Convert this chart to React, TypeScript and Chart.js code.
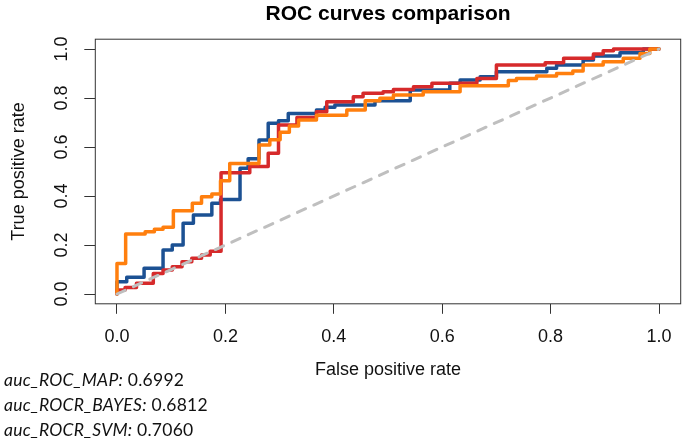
import React, { useEffect, useRef } from 'react';
import { Chart, registerables } from 'chart.js';

Chart.register(...registerables);

const chartTitle = 'ROC curves comparison';
const xAxisTitle = 'False positive rate';
const yAxisTitle = 'True positive rate';
const tickValues = [0, 0.2, 0.4, 0.6, 0.8, 1.0];

// MAP (blue)
const mapFpr = [0, 0, 0.018, 0.05, 0.085, 0.102, 0.122, 0.141, 0.175, 0.191, 0.227, 0.242, 0.262, 0.279, 0.298, 0.316, 0.368, 0.384, 0.402, 0.476, 0.541, 0.614, 0.633, 0.67, 0.70, 0.793, 0.811, 0.86, 0.879, 0.928, 0.971, 1.0];
const mapTpr = [0, 0.05, 0.068, 0.105, 0.18, 0.2, 0.289, 0.322, 0.37, 0.386, 0.513, 0.552, 0.629, 0.697, 0.707, 0.737, 0.751, 0.762, 0.771, 0.789, 0.833, 0.86, 0.873, 0.887, 0.907, 0.921, 0.935, 0.955, 0.971, 0.985, 1.0, 1.0];

// BAYES (red)
const bayesFpr = [0, 0, 0.015, 0.036, 0.067, 0.085, 0.102, 0.12, 0.138, 0.156, 0.172, 0.192, 0.245, 0.279, 0.298, 0.332, 0.368, 0.387, 0.436, 0.454, 0.491, 0.51, 0.547, 0.581, 0.664, 0.70, 0.79, 0.824, 0.879, 0.897, 0.916, 1.0];
const bayesTpr = [0, 0.016, 0.027, 0.044, 0.084, 0.098, 0.111, 0.132, 0.146, 0.159, 0.175, 0.495, 0.52, 0.574, 0.69, 0.72, 0.744, 0.785, 0.805, 0.819, 0.826, 0.835, 0.846, 0.86, 0.88, 0.935, 0.944, 0.962, 0.98, 0.993, 1.0, 1.0];

// SVM (orange)
const svmFpr = [0, 0, 0.016, 0.052, 0.069, 0.085, 0.104, 0.139, 0.156, 0.175, 0.191, 0.208, 0.262, 0.282, 0.301, 0.318, 0.335, 0.368, 0.424, 0.458, 0.485, 0.51, 0.565, 0.633, 0.722, 0.737, 0.774, 0.811, 0.841, 0.86, 0.897, 0.934, 0.965, 0.983, 1.0];
const svmTpr = [0, 0.125, 0.245, 0.254, 0.264, 0.272, 0.34, 0.37, 0.397, 0.408, 0.462, 0.533, 0.608, 0.63, 0.66, 0.686, 0.71, 0.73, 0.751, 0.789, 0.799, 0.812, 0.826, 0.85, 0.871, 0.88, 0.89, 0.9, 0.91, 0.935, 0.948, 0.962, 0.982, 1.0, 1.0];

// chance diagonal
const chanceFpr = [0, 1];
const chanceTpr = [0, 1];

const aucNames = ['auc_ROC_MAP:', 'auc_ROCR_BAYES:', 'auc_ROCR_SVM:'];
const aucValues = ['0.6992', '0.6812', '0.7060'];

const FONT = "'Liberation Sans', Arial, Helvetica, sans-serif";

const toXY = (xs: number[], ys: number[]) => xs.map((x, i) => ({ x, y: ys[i] }));

const boxPlugin = {
  id: 'rbox',
  afterDraw(chart: any) {
    const { ctx, chartArea } = chart;
    ctx.save();
    ctx.strokeStyle = '#333';
    ctx.lineWidth = 1;
    ctx.strokeRect(chartArea.left, chartArea.top, chartArea.right - chartArea.left, chartArea.bottom - chartArea.top);
    ctx.restore();
  },
};

export default function App() {
  const ref = useRef<HTMLCanvasElement | null>(null);

  useEffect(() => {
    if (!ref.current) return;
    const setTicks = (scale: any) => {
      scale.ticks = tickValues.map((v) => ({ value: v }));
    };
    const chart = new Chart(ref.current, {
      type: 'scatter',
      data: {
        datasets: [
          {
            label: 'chance',
            data: toXY(chanceFpr, chanceTpr),
            showLine: true,
            borderColor: '#bfbfbf',
            borderWidth: 3,
            borderDash: [9, 9],
            borderCapStyle: 'round',
            pointRadius: 0,
            order: 0,
          },
          {
            label: 'SVM',
            data: toXY(svmFpr, svmTpr),
            showLine: true,
            stepped: 'before',
            borderColor: '#ff7f0e',
            borderWidth: 3.5,
            borderJoinStyle: 'round',
            borderCapStyle: 'round',
            pointRadius: 0,
            order: 1,
          },
          {
            label: 'BAYES',
            data: toXY(bayesFpr, bayesTpr),
            showLine: true,
            stepped: 'before',
            borderColor: '#d62a2b',
            borderWidth: 3.5,
            borderJoinStyle: 'round',
            borderCapStyle: 'round',
            pointRadius: 0,
            order: 2,
          },
          {
            label: 'MAP',
            data: toXY(mapFpr, mapTpr),
            showLine: true,
            stepped: 'before',
            borderColor: '#1c5193',
            borderWidth: 3.5,
            borderJoinStyle: 'round',
            borderCapStyle: 'round',
            pointRadius: 0,
            order: 3,
          },
        ],
      },
      options: {
        animation: false,
        responsive: false,
        layout: { padding: { left: 0, top: 0, right: 4.3, bottom: 0 } },
        plugins: {
          legend: { display: false },
          tooltip: { enabled: false },
          title: {
            display: true,
            text: chartTitle,
            fullSize: false,
            color: '#000',
            font: { family: FONT, size: 21, weight: 'bold', lineHeight: 1.2 },
            padding: { top: 2, bottom: 12 },
          },
        },
        scales: {
          x: {
            type: 'linear',
            min: -0.04,
            max: 1.04,
            afterBuildTicks: setTicks,
            afterFit: (s: any) => { s.height = 140.2; },
            grid: { display: true, drawOnChartArea: false, drawTicks: true, tickLength: 10, color: '#333', lineWidth: 1 },
            border: { display: false },
            ticks: {
              autoSkip: false,
              maxRotation: 0,
              minRotation: 0,
              padding: 12,
              color: '#111',
              font: { family: FONT, size: 18 },
              callback: (v: any) => Number(v).toFixed(1),
            },
            title: {
              display: true,
              text: xAxisTitle,
              color: '#111',
              font: { family: FONT, size: 18 },
              padding: { top: 0, bottom: 63.5 },
            },
          },
          y: {
            type: 'linear',
            min: -0.04,
            max: 1.04,
            afterBuildTicks: setTicks,
            afterFit: (s: any) => { s.width = 95.3; },
            grid: { display: true, drawOnChartArea: false, drawTicks: true, tickLength: 11, color: '#333', lineWidth: 1 },
            border: { display: false },
            ticks: {
              autoSkip: false,
              minRotation: 90,
              maxRotation: 90,
              crossAlign: 'center',
              padding: 10,
              color: '#111',
              font: { family: FONT, size: 18 },
              callback: (v: any) => Number(v).toFixed(1),
            },
            title: {
              display: true,
              text: yAxisTitle,
              color: '#111',
              font: { family: FONT, size: 18 },
              padding: { top: 8.6, bottom: 0 },
            },
          },
        },
      } as any,
      plugins: [boxPlugin],
    });
    return () => chart.destroy();
  }, []);

  return (
    <div style={{ position: 'absolute', left: 0, top: 0, width: 685, height: 444, background: '#fff', overflow: 'hidden' }}>
      <canvas ref={ref} width={685} height={444} style={{ position: 'absolute', left: 0, top: 0, width: 685, height: 444 }} />
      <div style={{ position: 'absolute', left: 4, top: 367, fontFamily: 'Lato, sans-serif', fontSize: 17.5, letterSpacing: '0.25px', lineHeight: '25px', color: '#111', whiteSpace: 'nowrap' }}>
        {aucNames.map((n, i) => (
          <div key={n}>
            <i>{n}</i> {aucValues[i]}
          </div>
        ))}
      </div>
    </div>
  );
}
